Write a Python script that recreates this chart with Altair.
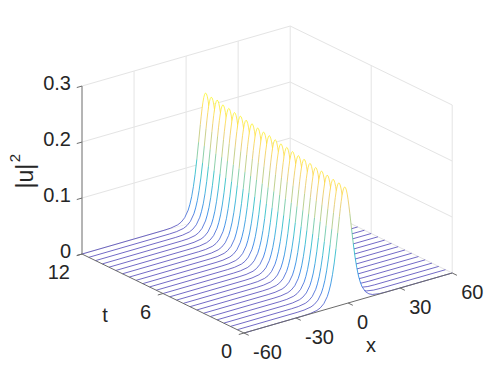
import altair as alt
import pandas as pd

# Values
T_LINES = [12, 11.5, 11, 10.5, 10, 9.5, 9, 8.5, 8, 7.5, 7, 6.5, 6, 5.5, 5, 4.5, 4, 3.5, 3, 2.5, 2, 1.5, 1, 0.5, 0]
CENTERS = [11.2, 10.6, 10.1, 9.5, 9.0, 8.4, 7.9, 7.3, 6.8, 6.2, 5.7, 5.1, 4.6, 4.0, 3.5, 2.9, 2.4, 1.8, 1.3, 0.7, 0.2, -0.4, -0.9, -1.5, -2.0]
PEAKS = [0.224, 0.223, 0.224, 0.222, 0.222, 0.221, 0.221, 0.220, 0.220, 0.219, 0.218, 0.218, 0.217, 0.216, 0.216, 0.215, 0.214, 0.214, 0.213, 0.212, 0.212, 0.211, 0.210, 0.210, 0.209]
OFFSETS = [-24, -20, -16, -14, -12, -10, -9, -8, -7, -6, -5, -4, -3, -2.5, -2, -1.5, -1, -0.5, 0, 0.5, 1, 1.5, 2, 2.5, 3, 4, 5, 6, 7, 8, 9, 10, 12, 14, 16, 20, 24]
SHAPE = [0.0007, 0.003, 0.013, 0.027, 0.054, 0.106, 0.149, 0.205, 0.281, 0.376, 0.492, 0.624, 0.760, 0.825, 0.883, 0.932, 0.969, 0.992, 1.0, 0.992, 0.969, 0.932, 0.883, 0.825, 0.760, 0.624, 0.492, 0.376, 0.281, 0.205, 0.149, 0.106, 0.054, 0.027, 0.013, 0.003, 0.0007]
Z_TICKS = [0, 0.1, 0.2, 0.3]
Z_LABELS = ["0", "0.1", "0.2", "0.3"]
X_TICKS = [-60, -30, 0, 30, 60]
T_TICKS = [0, 6, 12]
PARULA = ["#3a30b0", "#0363e1", "#1485d4", "#06a7c6", "#38b99e", "#92bf73", "#d9ba56", "#fcce2e", "#f9fb0e"]
INK = "#262626"
AXIS = "#6b6b6b"
GRID = "#e4e4e4"
FONT = "Liberation Sans"


def sx(x, t):
    return 244 + 1.735 * (x + 60) - 13.5 * t


def sy(x, t, z):
    return 333 - 0.5 * (x + 60) - 6.58 * t - 560 * z


X_SCALE = alt.Scale(domain=[8, 490], nice=False, zero=False)
Y_SCALE = alt.Scale(domain=[366, 8], nice=False, zero=False)


def enc_x(f):
    return alt.X(f, type="quantitative", scale=X_SCALE, axis=None)


def enc_y(f):
    return alt.Y(f, type="quantitative", scale=Y_SCALE, axis=None)


def segs(items):
    """items: (x0,t0,z0,x1,t1,z1)"""
    return pd.DataFrame(
        [{"a": sx(a, b), "b": sy(a, b, c), "a2": sx(d, e), "b2": sy(d, e, f)} for a, b, c, d, e, f in items]
    )


def rules(items, color, width):
    return alt.Chart(segs(items)).mark_rule(color=color, strokeWidth=width).encode(
        x=enc_x("a"), y=enc_y("b"), x2=alt.X2("a2"), y2=alt.Y2("b2")
    )


# back walls
grid_items = []
for z in Z_TICKS:
    grid_items.append((-60, 12, z, 60, 12, z))
    grid_items.append((60, 12, z, 60, 0, z))
for x in X_TICKS[1:]:
    grid_items.append((x, 12, 0, x, 12, 0.3))
for t in T_TICKS[:2]:
    grid_items.append((60, t, 0, 60, t, 0.3))
grid = rules(grid_items, GRID, 1)

layers = [grid]

# curves, back to front
for t, c, p in zip(T_LINES, CENTERS, PEAKS):
    xs = [-60] + [c + d for d in OFFSETS] + [60]
    zs = [0] + [p * s for s in SHAPE] + [0]
    df = pd.DataFrame({"x": xs, "z": zs})
    df["t"] = t
    df["px"] = sx(df["x"], t)
    df["py"] = sy(df["x"], t, df["z"])
    df["p0"] = sy(df["x"], t, 0)
    layers.append(
        alt.Chart(df).mark_area(color="white", opacity=1).encode(x=enc_x("px"), y=enc_y("py"), y2=alt.Y2("p0"))
    )
    seg = pd.DataFrame({
        "px": df["px"].values[:-1], "py": df["py"].values[:-1],
        "px2": df["px"].values[1:], "py2": df["py"].values[1:],
        "zm": (df["z"].values[:-1] + df["z"].values[1:]) / 2,
    })
    layers.append(
        alt.Chart(seg).mark_rule(strokeWidth=0.8, opacity=0.9).encode(
            x=enc_x("px"), y=enc_y("py"), x2=alt.X2("px2"), y2=alt.Y2("py2"),
            color=alt.Color("zm", type="quantitative", legend=None,
                            scale=alt.Scale(domain=[0, max(PEAKS)], range=PARULA)),
        )
    )

# axes and ticks
axis_items = [(-60, 12, 0, -60, 12, 0.3), (-60, 12, 0, -60, 0, 0), (-60, 0, 0, 60, 0, 0)]
axis_items += [(-60, 12, z, -63, 12, z) for z in Z_TICKS]
axis_items += [(x, 0, 0, x, -0.35, 0) for x in X_TICKS]
axis_items += [(-60, t, 0, -63, t, 0) for t in T_TICKS]
layers.append(rules(axis_items, AXIS, 1))


def labels(df, **kw):
    return alt.Chart(df).mark_text(font=FONT, fontSize=20, color=INK, baseline="middle", **kw).encode(
        x=enc_x("a"), y=enc_y("b"), text=alt.Text("s:N")
    )


zdf = pd.DataFrame({"a": [sx(-60, 12)] * 4, "b": [sy(-60, 12, z) for z in Z_TICKS], "s": Z_LABELS})
xdf = pd.DataFrame({"a": [sx(x, 0) for x in X_TICKS], "b": [sy(x, 0, 0) for x in X_TICKS], "s": [str(x) for x in X_TICKS]})
tdf = pd.DataFrame({"a": [sx(-60, t) for t in T_TICKS], "b": [sy(-60, t, 0) for t in T_TICKS], "s": [str(t) for t in T_TICKS]})
layers.append(labels(zdf, align="right", dx=-11, dy=-2))
layers.append(labels(xdf, align="left", dx=9, dy=20))
layers.append(labels(tdf, align="right", dx=-12, dy=19))

# axis titles anchored on the mid points of their axes
layers.append(labels(pd.DataFrame({"a": [sx(0, 0)], "b": [sy(0, 0, 0)], "s": ["x"]}), align="center", dx=23, dy=43))
layers.append(labels(pd.DataFrame({"a": [sx(-60, 6)], "b": [sy(-60, 6, 0)], "s": ["t"]}), align="center", dx=-58, dy=22))
layers.append(
    alt.Chart(pd.DataFrame({"a": [sx(-60, 12)], "b": [sy(-60, 12, 0.15)], "s": ["|u|"]}))
    .mark_text(font=FONT, fontSize=23, color=INK, angle=270, baseline="middle", align="center", dx=-6, dy=-56)
    .encode(x=enc_x("a"), y=enc_y("b"), text=alt.Text("s:N"))
)
layers.append(
    alt.Chart(pd.DataFrame({"a": [sx(-60, 12)], "b": [sy(-60, 12, 0.15)], "s": ["2"]}))
    .mark_text(font=FONT, fontSize=15, color=INK, angle=270, baseline="middle", align="center", dx=12, dy=-67)
    .encode(x=enc_x("a"), y=enc_y("b"), text=alt.Text("s:N"))
)

chart = (
    alt.layer(*layers)
    .properties(width=482, height=358, padding=0, autosize=alt.AutoSizeParams(type="none"))
    .configure_view(stroke=None)
)
chart.save("out.html", embed_options={"renderer": "svg", "actions": False})
